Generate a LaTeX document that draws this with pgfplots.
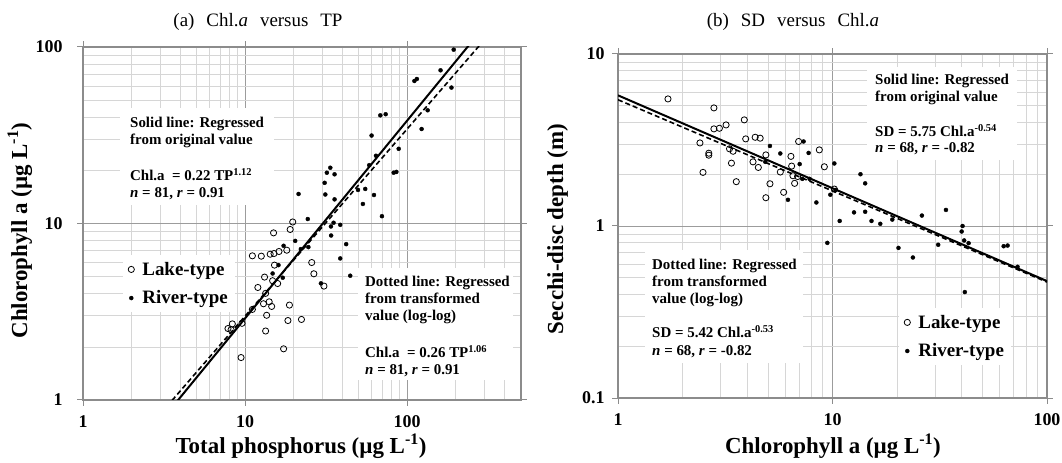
\documentclass[border=0pt]{standalone}
\usepackage{fontspec}
\setmainfont{Liberation Serif}
\usepackage{pgfplots}
\pgfplotsset{compat=1.18}
\definecolor{gmaj}{HTML}{9C9C9C}
\definecolor{gmin}{HTML}{D6D6D6}
\definecolor{frm}{HTML}{8C8C8C}
\newcommand\bx{\bfseries\fontsize{15}{17}\selectfont}
\newcommand\lb{\bfseries\fontsize{23}{23}\selectfont}
\pgfplotsset{
  lake/.style={only marks, mark=o, mark size=3.1bp, mark options={black, line width=0.8bp},
    legend image code/.code={\draw[##1] plot coordinates {(0bp,0bp)};}},
  river/.style={only marks, mark=*, mark size=2bp, mark options={black, fill=black},
    legend image code/.code={\draw[##1] plot coordinates {(0bp,0bp)};}},
}
\begin{document}
\begin{tikzpicture}
\path[use as bounding box] (0,0) rectangle (1062bp,463bp);
% ---------- (a) ----------
\begin{axis}[scale only axis, xmode=log, ymode=log,
  axis line style={frm, line width=1.2bp},
  grid=both,
  major grid style={gmaj, line width=0.9bp},
  minor grid style={gmin, line width=0.7bp},
  tick align=outside, major tick length=6bp, minor tick length=0bp,
  tick style={frm, line width=1bp},
  tick label style={font=\bfseries\fontsize{18}{18}\selectfont},
  xticklabel style={yshift=-6.5bp},
  legend cell align=left,
  at={(83bp,63bp)}, anchor=south west, width=438bp, height=353bp,
  xmin=1, xmax=505, ymin=1, ymax=100,
  xtick={1,10,100}, xticklabels={1,10,100},
  ytick={1,10,100}, yticklabels={1,10,100},
  minor xtick={2,3,4,5,6,7,8,9,20,30,40,50,60,70,80,90,200,300,400,500},
  minor ytick={2,3,4,5,6,7,8,9,20,30,40,50,60,70,80,90},
  yticklabel style={xshift=-11bp},
  legend style={draw=none, fill=white, inner sep=5bp, row sep=10bp, column sep=6bp,
    font=\bfseries\fontsize{19}{19}\selectfont, nodes={inner sep=2bp},
    at={(axis description cs:0.0913,0.411)}, anchor=north west}]
\addplot[lake] coordinates {
(19.7,10.2) (19.0,9.25) (15.0,8.85) (18.1,7.06) (16.2,6.94) (15.1,6.76) (14.3,6.70)
(12.6,6.53) (11.1,6.56) (15.2,5.81) (25.8,6.01) (26.6,5.19) (13.2,4.97) (14.8,4.74)
(15.9,4.57) (30.7,4.42) (12.0,4.34) (13.4,4.02) (13.0,3.51) (14.1,3.60) (14.6,3.39)
(18.8,3.45) (11.1,3.26) (13.6,3.02) (18.4,2.82) (22.3,2.86) (9.58,2.72) (8.35,2.70)
(7.85,2.54) (8.2,2.50) (13.4,2.46) (17.3,1.95) (9.45,1.74)};
\addlegendentry{Lake-type}
\addplot[river] coordinates {
(194,96.6) (161,73.8) (111,64.2) (115,65.9) (188,58.9) (134,43.8) (123,34.3)
(68.4,41.0) (73.8,41.6) (60.4,31.5) (64.3,24.2) (88.8,26.5) (58.4,21.4) (82.7,19.4)
(85.9,19.6) (33.6,20.7) (32.0,19.4) (35.7,19.0) (31.0,17.0) (31.3,14.6) (35.7,13.7)
(21.4,14.7) (49.8,15.5) (55.2,15.7) (62.5,14.5) (53.4,12.9) (70.0,11.0) (24.4,10.6)
(35.2,10.1) (38.7,9.83) (33.9,9.62) (34.0,8.55) (20.4,7.97) (17.3,7.48) (22.1,7.16)
(24.6,7.35) (42.1,7.64) (38.7,6.34) (16.1,5.81) (14.8,5.21) (17.1,4.93) (44.6,5.06)
(29.4,4.58)};
\addlegendentry{River-type}
\addplot[black, line width=2bp, forget plot] coordinates {(1,0.22) (505,234.4)};
\addplot[black, line width=1.6bp, dash pattern=on 5bp off 3bp, forget plot] coordinates {(1,0.26) (505,190.7)};
\end{axis}
% ---------- (b) ----------
\begin{axis}[scale only axis, xmode=log, ymode=log,
  axis line style={frm, line width=1.2bp},
  grid=both,
  major grid style={gmaj, line width=0.9bp},
  minor grid style={gmin, line width=0.7bp},
  tick align=outside, major tick length=6bp, minor tick length=0bp,
  tick style={frm, line width=1bp},
  tick label style={font=\bfseries\fontsize{18}{18}\selectfont},
  xticklabel style={yshift=-6.5bp},
  legend cell align=left,
  at={(618bp,65bp)}, anchor=south west, width=429bp, height=344bp,
  xmin=1, xmax=100, ymin=0.1, ymax=10,
  xtick={1,10,100}, xticklabels={1,10,100},
  ytick={0.1,1,10}, yticklabels={0.1,1,10},
  minor xtick={2,3,4,5,6,7,8,9,20,30,40,50,60,70,80,90},
  minor ytick={0.2,0.3,0.4,0.5,0.6,0.7,0.8,0.9,2,3,4,5,6,7,8,9},
  yticklabel style={xshift=-4bp},
  legend style={draw=none, fill=white, inner sep=5bp, row sep=10bp, column sep=6bp,
    font=\bfseries\fontsize{19}{19}\selectfont, nodes={inner sep=2bp},
    at={(axis description cs:0.655,0.262)}, anchor=north west}]
\addplot[lake] coordinates {
(1.71,5.48) (2.80,4.86) (3.88,4.14) (3.19,3.87) (2.97,3.70) (2.80,3.67) (2.41,3.04)
(3.94,3.21) (4.36,3.28) (4.60,3.24) (6.95,3.10) (8.68,2.77) (3.31,2.81) (3.44,2.72)
(2.65,2.65) (2.65,2.58) (4.89,2.59) (6.40,2.54) (3.38,2.32) (4.26,2.36) (4.51,2.19)
(6.45,2.23) (9.16,2.21) (2.49,2.05) (5.71,2.06) (6.54,1.96) (6.88,1.94) (3.56,1.81)
(5.11,1.76) (6.66,1.77) (5.92,1.57) (4.89,1.46) (10.2,1.64)};
\addlegendentry{Lake-type}
\addplot[river] coordinates {
(5.11,2.92) (7.33,3.10) (5.71,2.64) (7.74,2.66) (4.86,2.36) (7.03,2.29) (10.2,2.31)
(7.23,1.88) (7.82,1.88) (6.20,1.42) (8.41,1.37) (9.77,1.52) (10.35,1.62) (13.5,2.00)
(14.2,1.77) (10.8,1.07) (12.6,1.20) (14.2,1.21) (15.2,1.07) (16.7,1.03) (19.0,1.09)
(9.46,0.798) (20.3,0.746) (23.7,0.656) (26.1,1.15) (33.8,1.24) (31.1,0.778) (40.4,1.00)
(40.0,0.929) (41.1,0.824) (43.1,0.795) (62.8,0.763) (65.5,0.770) (72.9,0.579) (41.4,0.413)};
\addlegendentry{River-type}
\addplot[black, line width=2bp, forget plot] coordinates {(1,5.75) (100,0.4783)};
\addplot[black, line width=1.6bp, dash pattern=on 5bp off 3bp, forget plot] coordinates {(1,5.42) (100,0.4721)};
\end{axis}
% ---------- text boxes ----------
\fill[white] (120bp,258bp) rectangle (274bp,355bp);
\fill[white] (358bp,83bp) rectangle (513bp,195bp);
\fill[white] (867bp,303bp) rectangle (1017bp,396bp);
\fill[white] (645bp,100bp) rectangle (803bp,213bp);
\begin{scope}[every node/.style={anchor=base west, inner sep=0pt, font=\bx}]
\node at (130bp,335bp) {Solid line: Regressed};
\node at (130bp,318bp) {from original value};
\node at (130bp,282bp) {Chl.a \ = 0.22 TP\textsuperscript{1.12}};
\node at (130bp,265bp) {\textit{n} = 81, \textit{r} = 0.91};
\node at (365bp,176bp) {Dotted line: Regressed};
\node at (365bp,159bp) {from transformed};
\node at (365bp,142bp) {value (log-log)};
\node at (365bp,105bp) {Chl.a \ = 0.26 TP\textsuperscript{1.06}};
\node at (365bp,88bp) {\textit{n} = 81, \textit{r} = 0.91};
\node at (875bp,378bp) {Solid line: Regressed};
\node at (875bp,361bp) {from original value};
\node at (875bp,326bp) {SD = 5.75 Chl.a\textsuperscript{-0.54}};
\node at (875bp,310bp) {\textit{n} = 68, \textit{r} = -0.82};
\node at (652bp,193bp) {Dotted line: Regressed};
\node at (652bp,176bp) {from transformed};
\node at (652bp,159bp) {value (log-log)};
\node at (652bp,125bp) {SD = 5.42 Chl.a\textsuperscript{-0.53}};
\node at (652bp,107bp) {\textit{n} = 68, \textit{r} = -0.82};
\end{scope}
% ---------- titles and labels ----------
\node[anchor=base, font=\fontsize{19}{19}\selectfont] at (258bp,436bp) {(a)\hspace{12bp}Chl.\textit{a}\hspace{12bp}versus\hspace{12bp}TP};
\node[anchor=base, font=\fontsize{19}{19}\selectfont] at (793bp,436bp) {(b)\hspace{12bp}SD\hspace{12bp}versus\hspace{12bp}Chl.\textit{a}};
\node[anchor=base, font=\lb] at (301bp,10bp) {Total phosphorus (µg L\textsuperscript{-1})};
\node[anchor=base, font=\lb] at (833bp,10bp) {Chlorophyll a (µg L\textsuperscript{-1})};
\node[anchor=base, rotate=90, font=\lb] at (27bp,232.5bp) {Chlorophyll a (µg L\textsuperscript{-1})};
\node[anchor=base, rotate=90, font=\lb] at (563bp,234bp) {Secchi-disc depth (m)};
\end{tikzpicture}
\end{document}
